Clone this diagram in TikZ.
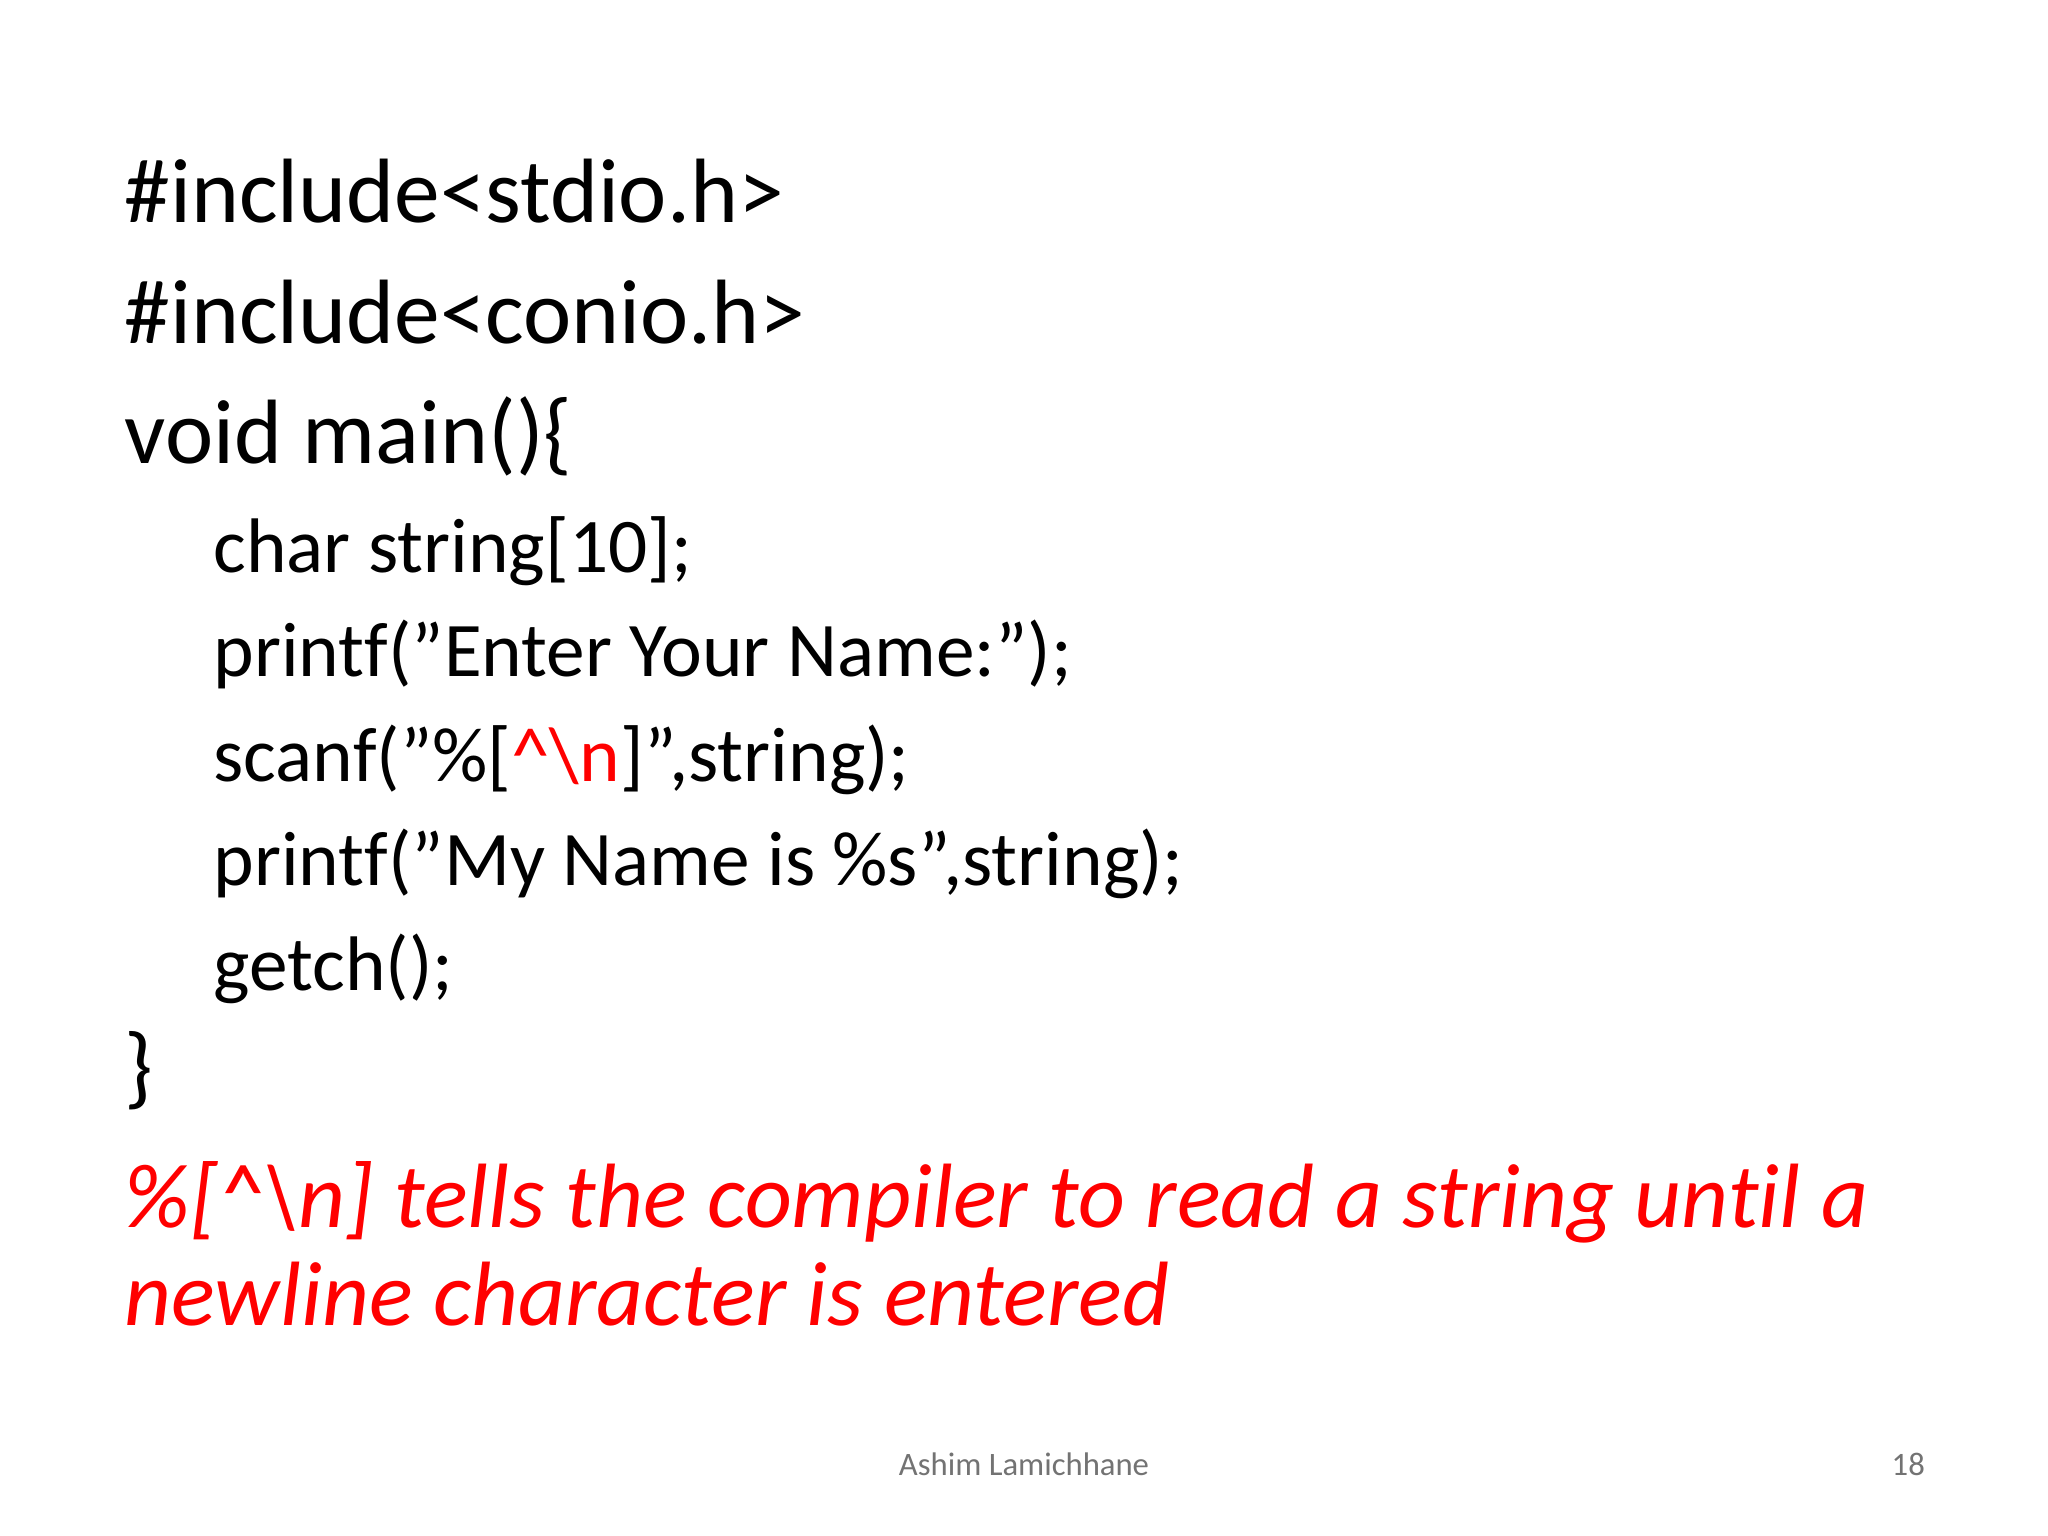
\documentclass[tikz,border=0pt]{standalone}
\usepackage{fontspec}
\setmainfont{Carlito}[Ligatures={NoCommon}]
\newcommand{\dq}{\symbol{34}}
\begin{document}
\begin{tikzpicture}[x=0.01306cm,y=-0.01306cm,
  big/.style={anchor=base west,inner sep=0,font=\fontsize{26}{30}\selectfont},
  mid/.style={anchor=base west,inner sep=0,font=\fontsize{22}{26}\selectfont},
  foot/.style={anchor=base,inner sep=0,text=black!55,font=\fontsize{9.3}{11}\selectfont}]
\useasboundingbox[fill=white] (0,0) rectangle (1568,1176);
\node[big] (l1) at (95,170) {\#include<stdio.h>};
\node[big] (l2) at (95,263) {\#include<conio.h>};
\node[big] (l3) at (95,355) {void main()\{};
\node[mid] (l4) at (163,438) {char string[10];};
\node[mid] (l5) at (163,518) {printf(\dq Enter Your Name:\dq);};
\node[mid] (l6) at (163,598) {scanf(\dq\%[\textcolor{red}{\string^\string\n}]\dq,string);};
\node[mid] (l7) at (163,678) {printf(\dq My Name is \%s\dq,string);};
\node[mid] (l8) at (163,758) {getch();};
\node[big] (l9) at (95,840) {\}};
\node[big,text=red,font=\fontsize{26}{30}\selectfont\itshape] (r1) at (95,940) {\%[\string^\string\n] tells the compiler to read a string until a};
\node[big,text=red,font=\fontsize{26}{30}\selectfont\itshape] (r2) at (95,1015) {newline character is entered};
\node[foot] (f1) at (784,1130) {Ashim Lamichhane};
\node[foot] (f2) at (1461,1130) {18};
\end{tikzpicture}
\end{document}
